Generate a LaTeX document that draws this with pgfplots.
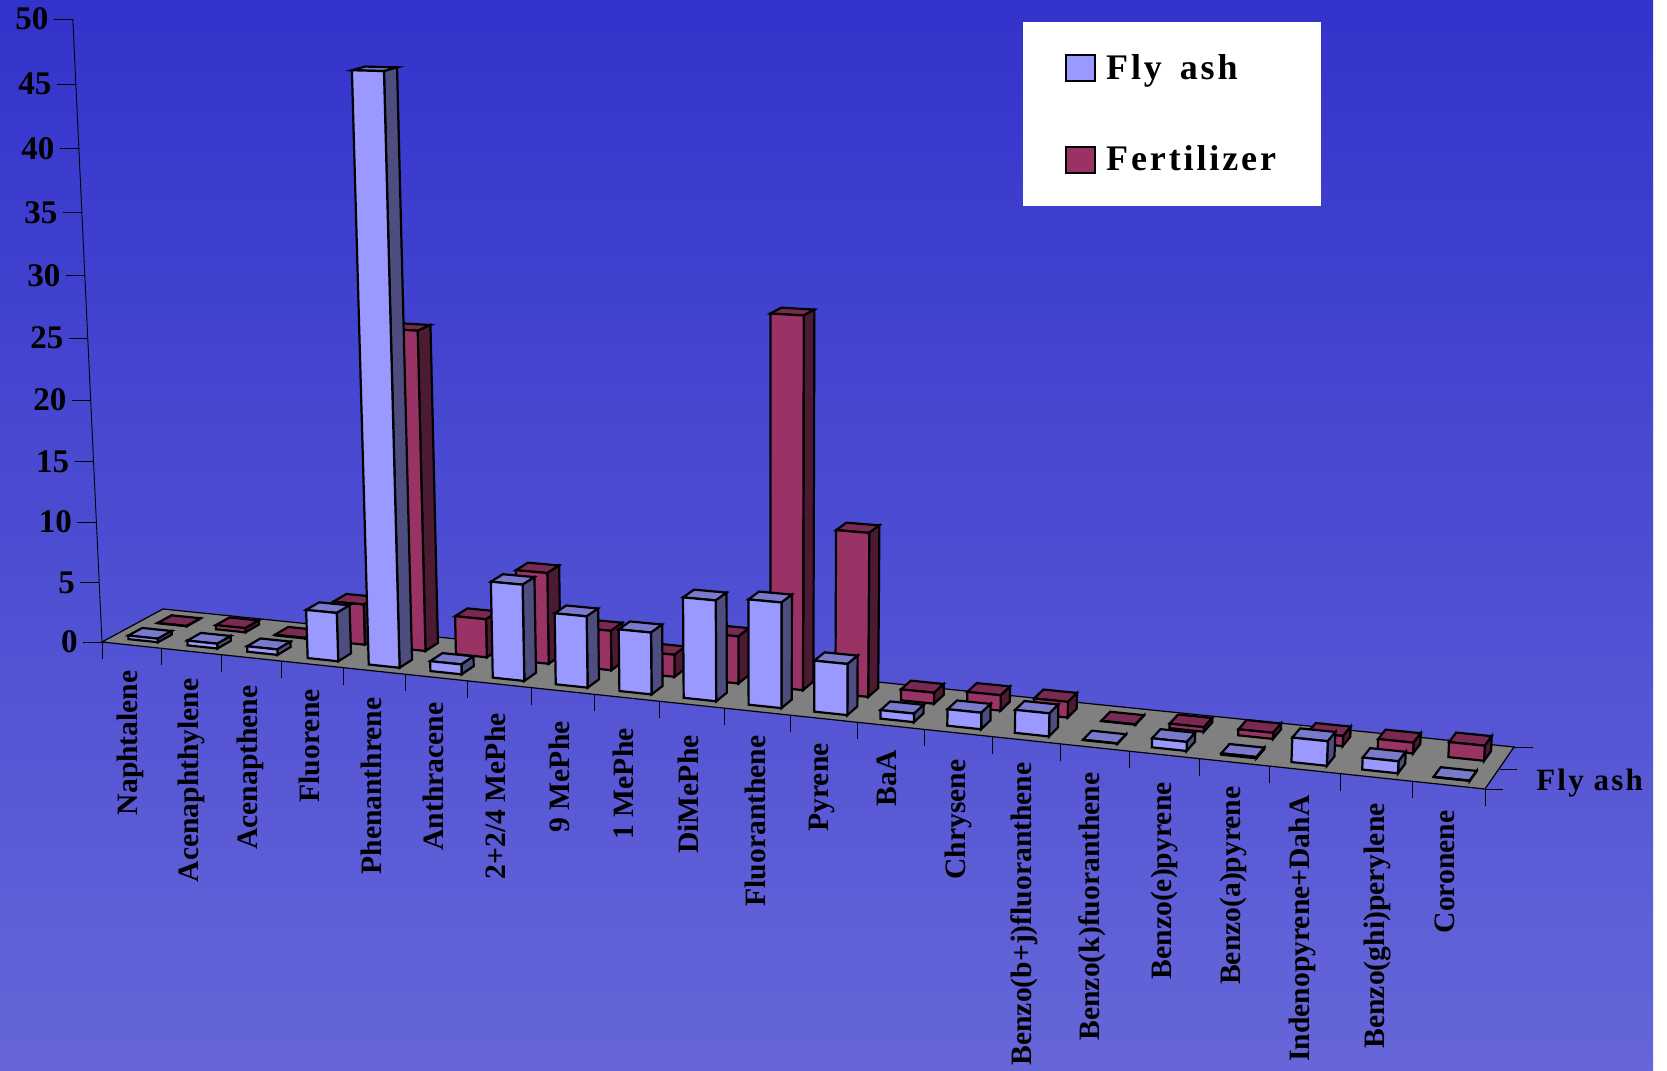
\documentclass[border=0pt]{standalone}
\usepackage{pgfplots}
\usepackage{pgfplotstable}
\usepackage{fontspec}
\setmainfont{Liberation Serif}
\pgfplotsset{compat=1.18}

\definecolor{flyfront}{HTML}{9999FF}
\definecolor{flyside}{HTML}{4D4D80}
\definecolor{flytop}{HTML}{7A7ACC}
\definecolor{fertfront}{HTML}{993366}
\definecolor{fertside}{HTML}{4D1A33}
\definecolor{ferttop}{HTML}{7A2952}
\definecolor{floorgray}{HTML}{808080}
\definecolor{bgtop}{HTML}{3333CC}
\definecolor{bgbottom}{HTML}{6666D9}

% PAH concentrations per compound
\pgfplotstableread{
idx flyash fertilizer
0  0.30  0.02
1  0.40  0.35
2  0.45  0.05
3  3.95  3.33
4  46.4  25.8
5  0.80  3.11
6  7.65  7.32
7  5.63  3.17
8  4.85  1.76
9  7.82  3.72
10 8.13  28.7
11 3.92  12.66
12 0.65  0.85
13 1.25  1.18
14 1.73  1.20
15 0.02  0.02
16 0.67  0.34
17 0.10  0.45
18 1.79  0.75
19 0.87  0.79
20 0.02  1.10
}\datatbl

% Compound names: baseline x, upper end y, name
\pgfplotstableread[col sep=comma]{
x,y,name
137,670,Naphtalene
198,678,Acenaphthylene
257,685,Acenapthene
319,689,Fluorene
381,697,Phenanthrene
443,702,Anthracene
505,713,2+2/4 MePhe
569,721,9 MePhe
633,728,1 MePhe
698,735,DiMePhe
765,735,Fluoranthene
828,743,Pyrene
896,750,BaA
965,759,Chrysene
1031,762,Benzo(b+j)fluoranthene
1099,772,Benzo(k)fuoranthene
1171,782,Benzo(e)pyrene
1240,786,Benzo(a)pyrene
1309,795,Indenopyrene+DahA
1384,803,Benzo(ghi)perylene
1454,810,Coronene
}\nametbl

% Perspective view: category position, depth (0 front, 1 back) and value
% give the position on the page.
\newcommand\Proj[5]{%
  \pgfmathsetmacro\pxf{102+59*(#1)+0.3265*(#1)*(#1)}%
  \pgfmathsetmacro\pxb{163+57.5*(#1)+0.3265*(#1)*(#1)}%
  \pgfmathsetmacro\pyf{642+0.1063*(\pxf-102)}%
  \pgfmathsetmacro\pyb{609+0.10215*(\pxb-163)}%
  \pgfmathsetmacro\pxo{\pxf+(#2)*(\pxb-\pxf)}%
  \pgfmathsetmacro\pyo{\pyf+(#2)*(\pyb-\pyf)}%
  \pgfmathsetmacro\ph{11.87*(#3)/(1-0.00094*(#3))*(1+0.0085*(#1))*(1-0.0315*(#2))}%
  \pgfmathsetmacro#4{\pxo+(\pxo-775)/(15000-\pyo)*\ph}%
  \pgfmathsetmacro#5{\pyo-\ph}%
}

% One box: category, value, front depth, back depth, three fill colours
\newcommand\BarBox[7]{%
  \pgfmathsetmacro\ul{#1+0.30-0.0035*#1}\pgfmathsetmacro\ur{\ul+0.5}%
  \Proj{\ul}{#3}{0}{\cax}{\cay}\Proj{\ur}{#3}{0}{\cbx}{\cby}%
  \Proj{\ur}{#3}{#2}{\ccx}{\ccy}\Proj{\ul}{#3}{#2}{\cdx}{\cdy}%
  \Proj{\ur}{#4}{0}{\cex}{\cey}\Proj{\ur}{#4}{#2}{\cfx}{\cfy}%
  \Proj{\ul}{#4}{#2}{\cgx}{\cgy}%
  \addplot[barface,fill=#7] coordinates {(\cdx,\cdy)(\ccx,\ccy)(\cfx,\cfy)(\cgx,\cgy)} -- cycle;
  \addplot[barface,fill=#6] coordinates {(\cbx,\cby)(\cex,\cey)(\cfx,\cfy)(\ccx,\ccy)} -- cycle;
  \addplot[barface,fill=#5] coordinates {(\cax,\cay)(\cbx,\cby)(\ccx,\ccy)(\cdx,\cdy)} -- cycle;
}

\pgfplotsset{
  barface/.style={draw=black,line width=1.1pt,line join=miter,mark=none,forget plot},
  thin line/.style={draw=black,line width=0.45pt,mark=none,forget plot},
}

\begin{document}
\begin{tikzpicture}
\begin{axis}[
  x=0.5pt,y=0.5pt,
  xmin=0,xmax=1667,ymin=0,ymax=1071,
  y dir=reverse,
  hide axis,
  clip=false,
  legend style={
    at={(axis cs:1023,22)},anchor=north west,draw=none,fill=white,
    inner xsep=20.7pt,inner ysep=14pt,row sep=27.6pt,
    font=\fontsize{18}{20}\selectfont\bfseries\addfontfeature{LetterSpace=8},
    legend cell align=left},
]
  % Page background
  \fill[white] (axis cs:0,0) rectangle (axis cs:1667,1071);
  \fill[top color=bgtop,bottom color=bgbottom] (axis cs:0,0) rectangle (axis cs:1653,1071);

  % Floor of the chart
  \addplot[draw=black,line width=0.6pt,fill=floorgray,mark=none,forget plot]
    coordinates {(102,642)(1485,789)(1514,747)(163,609)} -- cycle;

  % Category ticks along the front edge
  \pgfplotsforeachungrouped \cat in {0,...,21}{%
    \Proj{\cat}{0}{0}{\tx}{\ty}%
    \pgfmathsetmacro\tyb{\ty+17}%
    \addplot[thin line] coordinates {(\tx,\ty)(\tx,\tyb)};
  }
  % Depth ticks on the right edge
  \addplot[thin line] coordinates {(1485,789)(1503,789)};
  \addplot[thin line] coordinates {(1500,769)(1517,769)};
  \addplot[thin line] coordinates {(1514,747)(1533,747)};

  % Value axis
  \Proj{0}{0}{50}{\tx}{\ty}%
  \addplot[thin line] coordinates {(102,642)(\tx,\ty)};
  \pgfplotsforeachungrouped \tickval in {0,5,...,50}{%
    \Proj{0}{0}{\tickval}{\tx}{\ty}%
    \pgfmathsetmacro\txl{\tx-19}%
    \pgfmathsetmacro\txn{\tx-24}%
    \addplot[thin line] coordinates {(\txl,\ty)(\tx,\ty)};
    \edef\tmp{\noexpand\node[anchor=east,inner sep=0pt,font=\noexpand\fontsize{16.5}{18}\noexpand\selectfont\noexpand\bfseries] at (axis cs:\txn,\ty) {\tickval};}\tmp
  }

  % Back row, then front row
  \pgfplotsforeachungrouped \cat in {0,...,20}{%
    \pgfplotstablegetelem{\cat}{fertilizer}\of\datatbl
    \let\val\pgfplotsretval
    \BarBox{\cat}{\val}{0.625}{0.856}{fertfront}{fertside}{ferttop}%
  }
  \pgfplotsforeachungrouped \cat in {0,...,20}{%
    \pgfplotstablegetelem{\cat}{flyash}\of\datatbl
    \let\val\pgfplotsretval
    \BarBox{\cat}{\val}{0.144}{0.375}{flyfront}{flyside}{flytop}%
  }

  % Compound names
  \addplot[draw=none,mark=none,forget plot,point meta=explicit symbolic,
    nodes near coords,
    every node near coord/.append style={rotate=90,anchor=base east,inner sep=0pt,
      font=\fontsize{14.8}{16}\selectfont\bfseries}]
    table[x=x,y=y,meta=name] {\nametbl};

  % Series name on the depth axis
  \node[anchor=base west,inner sep=0pt,font=\fontsize{15.5}{17}\selectfont\bfseries\addfontfeature{LetterSpace=7}]
    at (axis cs:1536,790) {Fly ash};

  \addlegendimage{legend image code/.code={\draw[fill=flyfront,draw=black,line width=1pt] (0pt,-6.5pt) rectangle (14.5pt,6.5pt);}}
  \addlegendentry{\hspace{3.2pt}Fly\hspace{3pt} ash}
  \addlegendimage{legend image code/.code={\draw[fill=fertfront,draw=black,line width=1pt] (0pt,-6.5pt) rectangle (14.5pt,6.5pt);}}
  \addlegendentry{\hspace{3.2pt}Fertilizer\hspace{2.2pt}}
\end{axis}
\end{tikzpicture}
\end{document}
